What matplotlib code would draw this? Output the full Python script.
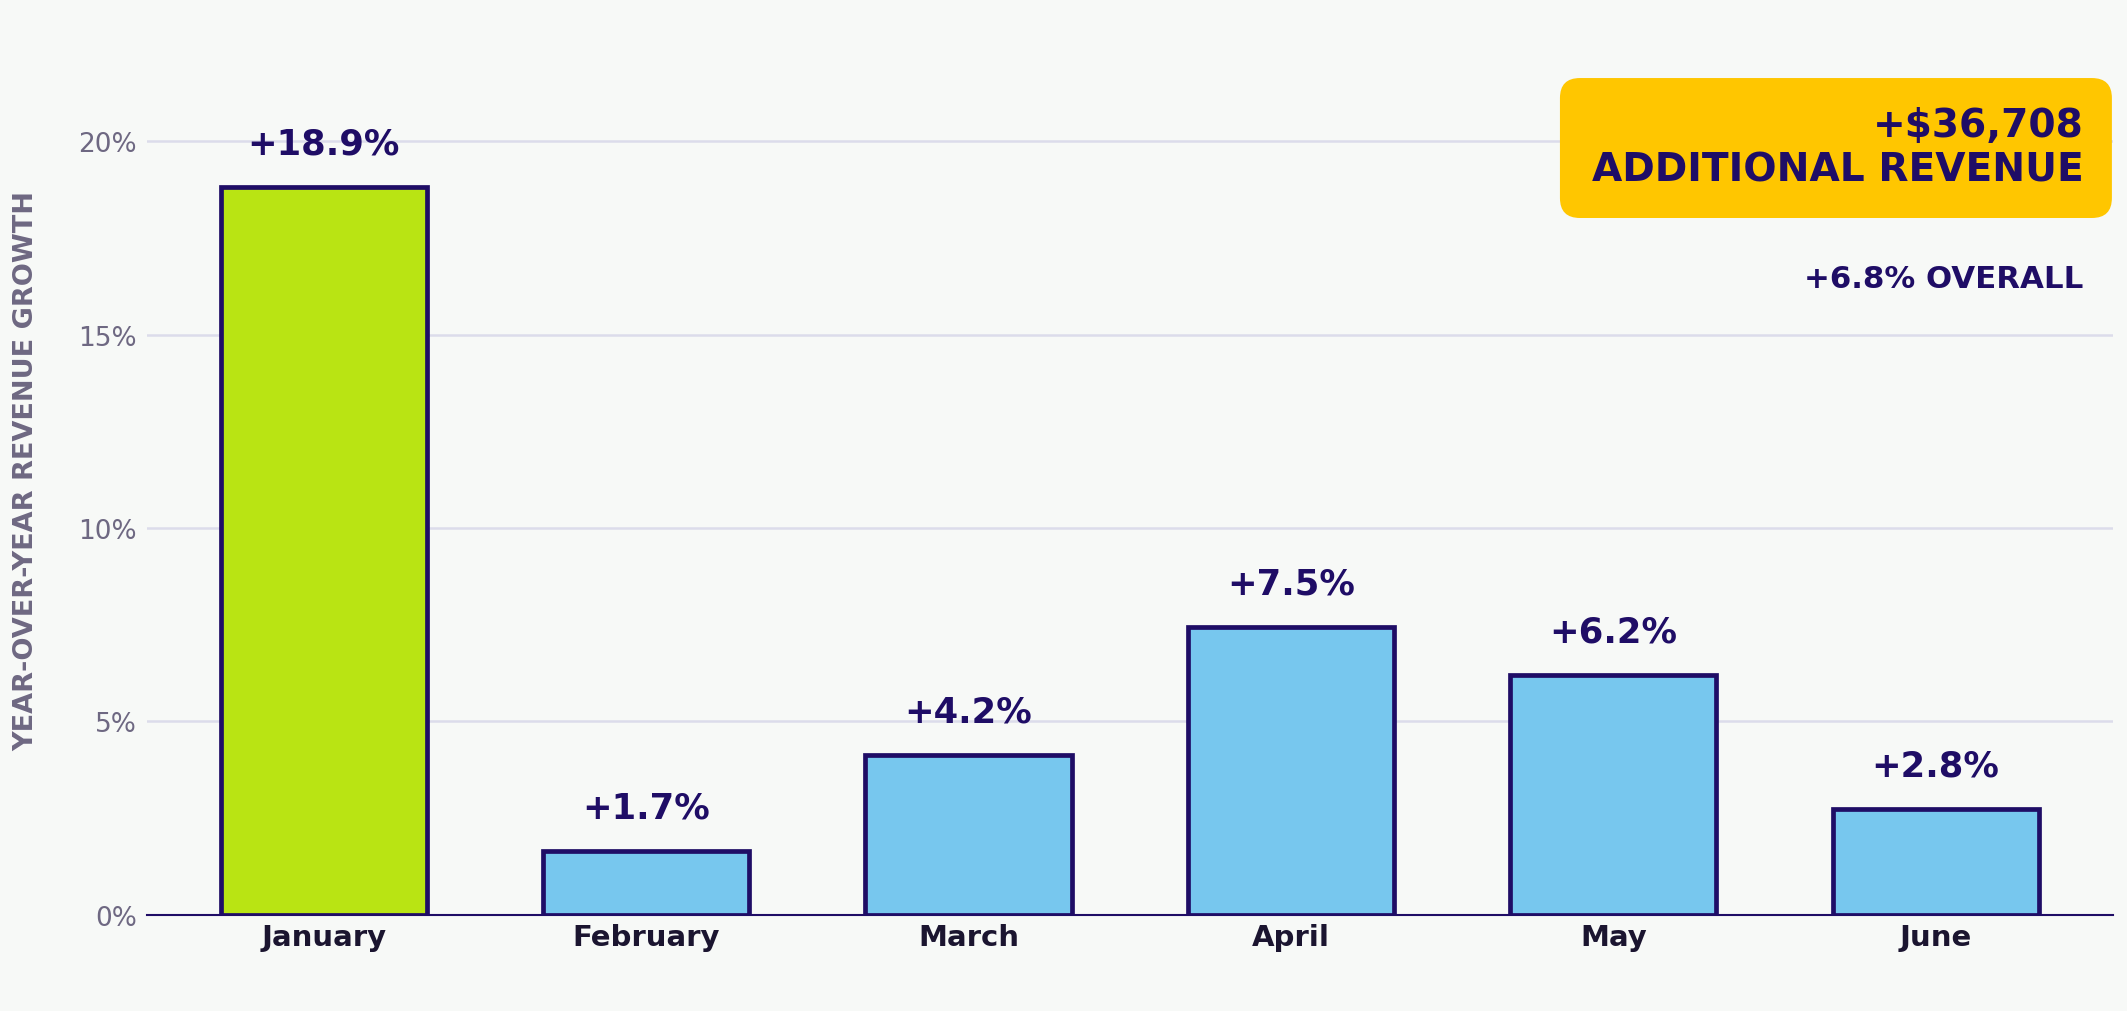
import matplotlib
matplotlib.use("Agg")
import matplotlib.pyplot as plt
from matplotlib.patches import FancyBboxPatch
from matplotlib.ticker import FuncFormatter

months = ["January", "February", "March", "April", "May", "June"]
growth = [18.83, 1.64, 4.13, 7.43, 6.2, 2.73]
growth_labels = ["+18.9%", "+1.7%", "+4.2%", "+7.5%", "+6.2%", "+2.8%"]
highlight_month = "January"
total_revenue_text = "+$36,708"
total_label = "ADDITIONAL REVENUE"
overall_text = "+6.8% OVERALL"
yticks = [0, 5, 10, 15, 20]

BG = "#F7F9F7"
INDIGO = "#1F0D66"
BLUE = "#77C7EE"
LIME = "#B9E413"
GRID = "#DCDCEB"
TICK = "#6E6882"
XTICK = "#1B1530"
GOLD = "#FFC600"

fig = plt.figure(figsize=(21.27, 10.12), dpi=100, facecolor=BG)
ax = fig.add_axes([0.0689, 0.0953, 0.9245, 0.8664])
ax.set_facecolor(BG)

x = list(range(len(months)))
colors = [LIME if m == highlight_month else BLUE for m in months]
bars = ax.bar(x, growth, width=0.64, color=colors, edgecolor=INDIGO,
              linewidth=3.4, zorder=3)

for xi, v, lab in zip(x, growth, growth_labels):
    ax.annotate(lab, (xi, v), xytext=(0, 19), textcoords="offset points",
                ha="center", va="bottom", fontsize=25.5, fontweight="bold",
                color=INDIGO, zorder=4)

ax.set_xlim(-0.55, len(months) - 0.45)
ax.set_ylim(0, 22.68)
ax.set_yticks(yticks)
ax.yaxis.set_major_formatter(FuncFormatter(lambda v, p: f"{v:.0f}%"))
ax.set_xticks(x)
ax.set_xticklabels(months, fontsize=21, fontweight="bold", color=XTICK)
ax.tick_params(axis="y", length=0, pad=7, labelsize=19, labelcolor=TICK)
ax.tick_params(axis="x", length=0, pad=6)
ax.grid(axis="y", color=GRID, linewidth=1.8, zorder=0)
ax.set_axisbelow(True)
for s in ["top", "right", "left"]:
    ax.spines[s].set_visible(False)
ax.spines["bottom"].set_color(INDIGO)
ax.spines["bottom"].set_linewidth(1.5)
ax.spines["bottom"].set_zorder(5)

fig.text(0.0122, 0.5346, "YEAR-OVER-YEAR REVENUE GROWTH", rotation=90,
         ha="center", va="center", fontsize=19.5, fontweight="bold", color=TICK)

aspect = 2127 / 1012
box = FancyBboxPatch((0.7334, 0.7836), 0.9929 - 0.7334, 0.9219 - 0.7836,
                     boxstyle="round,pad=0,rounding_size=0.0094",
                     mutation_aspect=aspect, transform=fig.transFigure,
                     facecolor=GOLD, edgecolor="none", zorder=10)
fig.patches.append(box)
fig.text(0.9796, 0.8646, total_revenue_text, ha="right", va="baseline",
         fontsize=28.2, fontweight="bold", color=INDIGO, zorder=11)
fig.text(0.9796, 0.8202, total_label, ha="right", va="baseline",
         fontsize=28.2, fontweight="bold", color=INDIGO, zorder=11)
fig.text(0.9796, 0.7154, overall_text, ha="right", va="baseline",
         fontsize=22.2, fontweight="bold", color=INDIGO, zorder=11)

fig.savefig("out.png", dpi=100, facecolor=BG)
